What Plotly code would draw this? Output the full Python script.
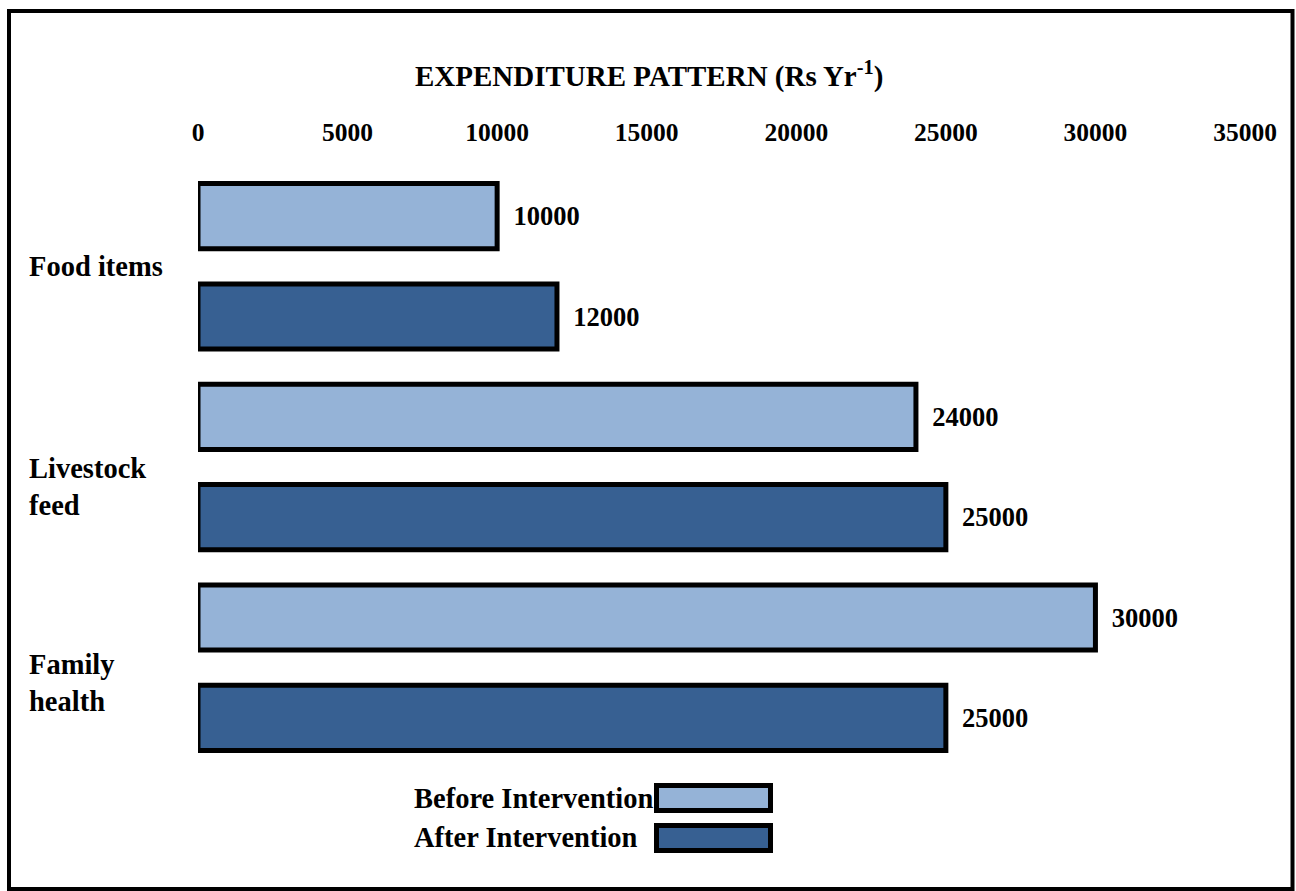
import plotly.graph_objects as go

categories = ["Food items", "Livestock feed", "Family health"]
category_labels = ["Food items", "Livestock<br>feed", "Family<br>health"]
before = [10000, 24000, 30000]
after = [12000, 25000, 25000]
x_ticks = [0, 5000, 10000, 15000, 20000, 25000, 30000, 35000]

light_blue = "#95B3D7"
dark_blue = "#376092"
FONT = "Liberation Serif"

# figure / plot area in pixels
W, H = 1296, 891
L, R, T, B = 198, 51, 166, 123
PW, PH = W - L - R, H - T - B


def px(x):
    return (x - L) / PW


def py(y):
    return (H - B - y) / PH


fig = go.Figure()
fig.add_trace(go.Bar(
    y=categories, x=before, orientation="h", name="Before Intervention",
    marker=dict(color=light_blue, line=dict(color="black", width=5)),
    text=["\u00a0\u00a0" + str(v) for v in before], textposition="outside",
    constraintext="none", cliponaxis=False,
    textfont=dict(family=FONT, size=26.5, color="black", weight="bold"),
))
fig.add_trace(go.Bar(
    y=categories, x=after, orientation="h", name="After Intervention",
    marker=dict(color=dark_blue, line=dict(color="black", width=5)),
    text=["\u00a0\u00a0" + str(v) for v in after], textposition="outside",
    constraintext="none", cliponaxis=False,
    textfont=dict(family=FONT, size=26.5, color="black", weight="bold"),
))

# category labels
shifts = [0, -20, -15]
for cat, lab, sh in zip(categories, category_labels, shifts):
    fig.add_annotation(x=px(27), xref="paper", y=cat, yref="y", yshift=sh,
                       text=lab, showarrow=False, xanchor="left", align="left",
                       font=dict(family=FONT, size=28.5, color="black", weight="bold"))

# title
fig.add_annotation(x=px(649), y=py(74), xref="paper", yref="paper",
                   text="EXPENDITURE PATTERN (Rs Yr<sup>-1</sup>)", showarrow=False,
                   xanchor="center", yanchor="middle",
                   font=dict(family=FONT, size=29, color="black", weight="bold"))

# custom legend
legend_items = [("Before Intervention", light_blue, 798, 785.5, 810.5),
                ("After Intervention", dark_blue, 837, 825.5, 850.5)]
for name, col, ty, y0, y1 in legend_items:
    fig.add_annotation(x=px(412), y=py(ty), xref="paper", yref="paper",
                       text=name, showarrow=False, xanchor="left", yanchor="middle",
                       font=dict(family=FONT, size=28.5, color="black", weight="bold"))
    fig.add_shape(type="rect", xref="paper", yref="paper",
                  x0=px(656.5), x1=px(770.5), y0=py(y1), y1=py(y0),
                  fillcolor=col, line=dict(color="black", width=5))

# outer frame
fig.add_shape(type="rect", xref="paper", yref="paper",
              x0=px(9), x1=px(1292.5), y0=py(889), y1=py(11),
              line=dict(color="black", width=4), fillcolor="rgba(0,0,0,0)")

fig.update_layout(
    width=W, height=H,
    margin=dict(l=L, r=R, t=T, b=B),
    plot_bgcolor="white", paper_bgcolor="white",
    barmode="group", bargap=0, bargroupgap=0.35,
    showlegend=False,
    font=dict(family=FONT, color="black"),
    xaxis=dict(range=[0, 35000], side="top", tickvals=x_ticks,
               ticktext=[str(v) for v in x_ticks], showgrid=False, zeroline=False,
               showline=False, ticks="", ticklabelstandoff=19,
               tickfont=dict(family=FONT, size=25.5, color="black", weight="bold")),
    yaxis=dict(categoryorder="array", categoryarray=categories, autorange="reversed",
               showticklabels=False, showgrid=False, zeroline=False, showline=False,
               ticks=""),
)

fig.write_html("out.html", config={"displayModeBar": False},
               post_script="document.body.style.margin='0px';")
